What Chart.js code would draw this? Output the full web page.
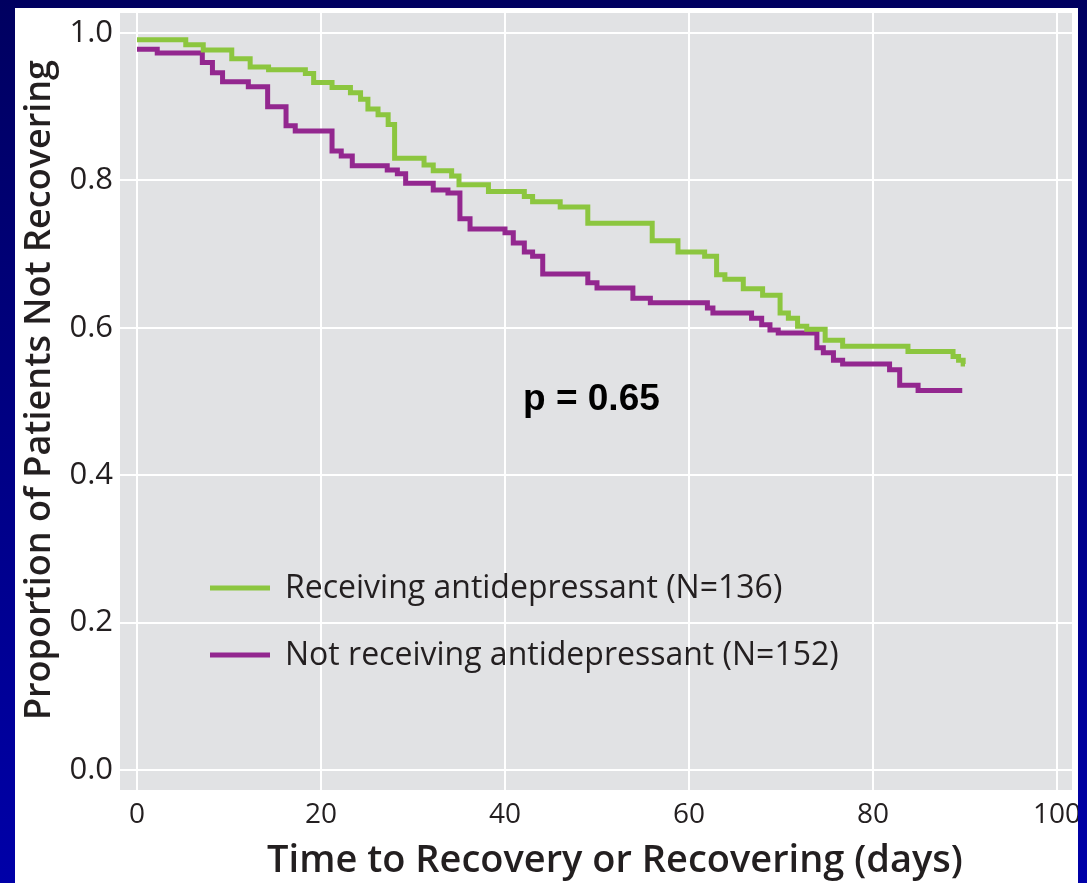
<!DOCTYPE html>
<html>
<head>
<meta charset="utf-8">
<title>Time to Recovery</title>
<script src="https://cdn.jsdelivr.net/npm/chart.js@4.4.1/dist/chart.umd.min.js"></script>
<style>
  html, body { margin: 0; padding: 0; }
  body {
    width: 1087px;
    height: 883px;
    overflow: hidden;
    position: relative;
    background: linear-gradient(#000060, #0000a8);
  }
  #panel {
    position: absolute;
    left: 15px;
    top: 8px;
    width: 1063px;
    height: 875px;
    background: #fff;
  }
  canvas { display: block; }
</style>
</head>
<body>
<div id="panel"><canvas id="kmChart" width="1063" height="875"></canvas></div>
<script>
// Kaplan-Meier steps: day of each drop and the proportion after it
const antidepDays = [0, 5.3, 7.2, 10.3, 12.3, 14.3, 18.3, 19.2, 21.2, 23.2, 24.3, 25.1, 26.2, 27.3, 28.0,
  31.2, 32.2, 34.2, 35.0, 38.2, 42.1, 43.0, 46.0, 49.0, 56.0, 58.8, 61.7, 63.0, 63.9, 65.9,
  68.0, 69.9, 70.8, 71.8, 72.8, 74.8, 76.7, 83.8, 88.7, 89.3, 89.8, 90.0];
const antidepProp = [0.991, 0.984, 0.977, 0.965, 0.954, 0.950, 0.945, 0.933, 0.926, 0.919, 0.910, 0.897, 0.889, 0.876, 0.830,
  0.821, 0.813, 0.806, 0.794, 0.785, 0.778, 0.771, 0.764, 0.742, 0.718, 0.703, 0.697, 0.672, 0.666, 0.653,
  0.644, 0.620, 0.613, 0.602, 0.598, 0.583, 0.575, 0.568, 0.561, 0.556, 0.551, 0.551];

const noAntidepDays = [0, 2.2, 7.1, 8.2, 9.3, 12.1, 14.2, 16.2, 17.2, 21.2, 22.2, 23.4, 27.2, 28.3, 29.2,
  32.2, 33.8, 35.1, 36.2, 40.0, 40.9, 42.1, 43.0, 44.1, 49.0, 50.0, 53.9, 55.8, 62.0, 62.6,
  66.8, 67.9, 68.8, 69.7, 73.9, 74.6, 75.7, 76.7, 81.8, 82.9, 84.9, 89.7];
const noAntidepProp = [0.978, 0.973, 0.960, 0.946, 0.934, 0.927, 0.900, 0.874, 0.867, 0.840, 0.833, 0.820, 0.814, 0.809, 0.796,
  0.787, 0.783, 0.748, 0.734, 0.729, 0.715, 0.703, 0.697, 0.673, 0.661, 0.654, 0.640, 0.634, 0.627, 0.620,
  0.613, 0.604, 0.597, 0.593, 0.573, 0.566, 0.556, 0.551, 0.543, 0.522, 0.515, 0.515];

const seriesLabels = ['Receiving antidepressant (N=136)', 'Not receiving antidepressant (N=152)'];
const seriesColors = ['#8cc63f', '#93278f'];
const xTicks = [0, 20, 40, 60, 80, 100];
const yTicks = [0, 0.2, 0.4, 0.6, 0.8, 1.0];
const xTitle = 'Time to Recovery or Recovering (days)';
const yTitle = 'Proportion of Patients Not Recovering';
const pValueText = 'p = 0.65';

const textColor = '#231f20';
const plotGray = '#e1e2e4';

// turn the two arrays of a group into {x, y} points
function toPoints(days, props) {
  return days.map((d, i) => ({ x: d, y: props[i] }));
}

// gray panel behind the grid
const plotBackground = {
  id: 'plotBackground',
  beforeDraw(chart) {
    const { ctx, chartArea: a } = chart;
    ctx.save();
    ctx.fillStyle = plotGray;
    ctx.fillRect(a.left, a.top, a.right - a.left, a.bottom - a.top);
    ctx.restore();
  },
};

// legend, p value and axis titles are placed by hand
const overlay = {
  id: 'overlay',
  afterDatasetsDraw(chart) {
    const { ctx, chartArea: a } = chart;
    ctx.save();
    const rows = [575, 642];
    chart.data.datasets.forEach((ds, i) => {
      const y = a.top + rows[i];
      ctx.strokeStyle = ds.borderColor;
      ctx.lineWidth = 5;
      ctx.beginPath();
      ctx.moveTo(a.left + 90, y);
      ctx.lineTo(a.left + 150, y);
      ctx.stroke();
      ctx.fillStyle = textColor;
      ctx.font = '32px "Open Sans"';
      ctx.textAlign = 'left';
      ctx.textBaseline = 'middle';
      ctx.fillText(ds.label, a.left + 165, y + 1);
    });
    ctx.fillStyle = '#000';
    ctx.font = 'bold 37px "Liberation Sans", Arial, sans-serif';
    ctx.textBaseline = 'middle';
    ctx.fillText(pValueText, a.left + 403, a.top + 387);

    // axis titles
    ctx.fillStyle = textColor;
    ctx.font = '600 38px "Open Sans"';
    ctx.textAlign = 'center';
    ctx.fillText(xTitle, a.left + 495, a.bottom + 71);

    ctx.translate(25, a.top + 377);
    ctx.rotate(-Math.PI / 2);
    ctx.font = '600 36px "Open Sans"';
    ctx.fillText(yTitle, 0, 0);
    ctx.restore();
  },
};

new Chart(document.getElementById('kmChart'), {
  type: 'line',
  data: {
    datasets: [
      {
        label: seriesLabels[0],
        data: toPoints(antidepDays, antidepProp),
        borderColor: seriesColors[0],
        borderWidth: 5,
        stepped: true,
        pointRadius: 0,
        fill: false,
      },
      {
        label: seriesLabels[1],
        data: toPoints(noAntidepDays, noAntidepProp),
        borderColor: seriesColors[1],
        borderWidth: 5,
        stepped: true,
        pointRadius: 0,
        fill: false,
      },
    ],
  },
  options: {
    responsive: false,
    animation: false,
    devicePixelRatio: 1,
    layout: { padding: { top: 5, right: 6, left: 0, bottom: 0 } },
    plugins: {
      legend: { display: false },
      tooltip: { enabled: false },
    },
    scales: {
      x: {
        type: 'linear',
        min: -1.848,
        max: 101.63,
        afterBuildTicks: (scale) => { scale.ticks = xTicks.map((v) => ({ value: v })); },
        afterFit: (scale) => {
          scale.height = 93;
          scale.paddingLeft = 0;
          scale.paddingRight = 0;
        },
        grid: { color: '#fff', lineWidth: 2, drawTicks: false },
        border: { display: false },
        ticks: {
          padding: 8,
          color: textColor,
          maxRotation: 0,
          font: { family: 'Open Sans', size: 28 },
          callback: (v) => String(v),
        },
      },
      y: {
        type: 'linear',
        min: -0.02714,
        max: 1.02714,
        afterBuildTicks: (scale) => { scale.ticks = yTicks.map((v) => ({ value: v })); },
        afterFit: (scale) => {
          scale.width = 105;
          scale.paddingTop = 0;
          scale.paddingBottom = 0;
        },
        grid: { color: '#fff', lineWidth: 2, drawTicks: false },
        border: { display: false },
        ticks: {
          padding: 7,
          color: textColor,
          font: { family: 'Open Sans', size: 31 },
          callback: (v) => v.toFixed(1),
        },
      },
    },
  },
  plugins: [plotBackground, overlay],
});
</script>
</body>
</html>
